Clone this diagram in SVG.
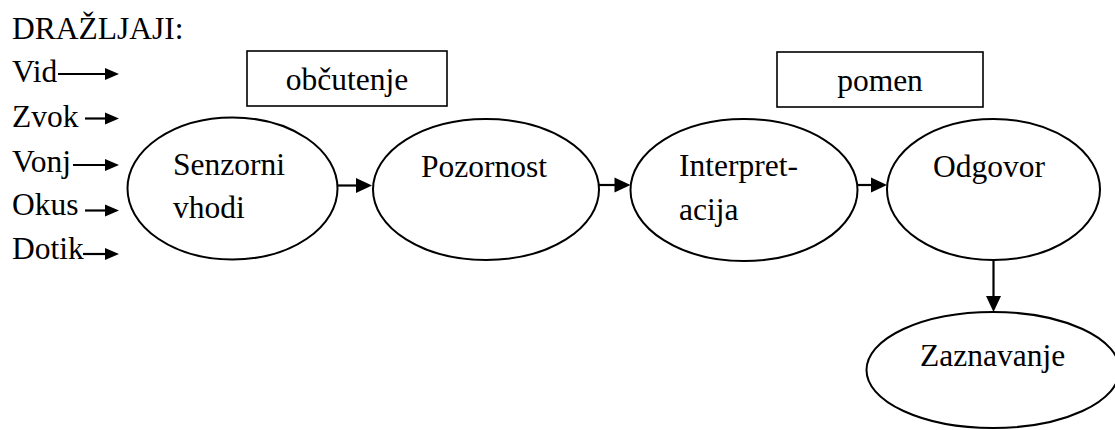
<svg xmlns="http://www.w3.org/2000/svg" width="1115" height="430" viewBox="0 0 1115 430" font-family="Liberation Serif, Tinos, Times New Roman, serif">
  <style>
    text { font-family: 'Liberation Serif', Tinos, 'Times New Roman', serif; font-size: 31.5px; fill: #000; }
    .shape { fill: #fff; stroke: #000; stroke-width: 2; }
    .box { fill: #fff; stroke: #000; stroke-width: 1.6; }
    .conn { stroke: #000; stroke-width: 2.2; fill: none; }
    .head { fill: #000; stroke: none; }
  </style>
  <defs>
    <!-- arrowheads with the tip at the origin, pointing right -->
    <path id="headSmall" class="head" d="M0,0 L-14,-6 L-14,6 Z"/>
    <path id="headBig" class="head" d="M0,0 L-16,-7.5 L-16,7.5 Z"/>
  </defs>

  <!-- stimuli list -->
  <g id="stimuli">
    <text x="12" y="39">DRAŽLJAJI:</text>
    <text x="12" y="82">Vid</text>
    <text x="12" y="127">Zvok</text>
    <text x="12" y="172">Vonj</text>
    <text x="12" y="215">Okus</text>
    <text x="12" y="259">Dotik</text>
  </g>

  <!-- label boxes -->
  <g id="obcutenje">
    <rect class="box" x="247" y="51" width="200" height="55"/>
    <text x="347" y="90" text-anchor="middle">občutenje</text>
  </g>
  <g id="pomen">
    <rect class="box" x="777" y="52" width="206" height="55"/>
    <text x="880" y="91" text-anchor="middle">pomen</text>
  </g>

  <!-- process stages -->
  <g id="senzorni-vhodi">
    <ellipse class="shape" cx="232.5" cy="188.5" rx="105" ry="71"/>
    <text x="173" y="175">Senzorni</text>
    <text x="173" y="218">vhodi</text>
  </g>
  <g id="pozornost">
    <ellipse class="shape" cx="486" cy="189.5" rx="113" ry="70.5"/>
    <text x="421" y="177">Pozornost</text>
  </g>
  <g id="interpretacija">
    <ellipse class="shape" cx="744" cy="190" rx="113.5" ry="71"/>
    <text x="679" y="176">Interpret-</text>
    <text x="679" y="220">acija</text>
  </g>
  <g id="odgovor">
    <ellipse class="shape" cx="993.5" cy="189.5" rx="106.5" ry="70.5"/>
    <text x="933" y="177">Odgovor</text>
  </g>
  <g id="zaznavanje">
    <ellipse class="shape" cx="993" cy="370" rx="126.5" ry="58"/>
    <text x="920" y="366">Zaznavanje</text>
  </g>

  <!-- connectors -->
  <g id="connectors">
    <line class="conn" x1="58" y1="74" x2="106" y2="74"/>
    <use href="#headSmall" x="119" y="74"/>
    <line class="conn" x1="85" y1="118.5" x2="106" y2="118.5"/>
    <use href="#headSmall" x="119" y="118.5"/>
    <line class="conn" x1="73" y1="165" x2="106" y2="165"/>
    <use href="#headSmall" x="119" y="165"/>
    <line class="conn" x1="85" y1="210.5" x2="106" y2="210.5"/>
    <use href="#headSmall" x="119" y="210.5"/>
    <line class="conn" x1="83" y1="254" x2="106" y2="254"/>
    <use href="#headSmall" x="119" y="254"/>

    <line class="conn" x1="337.5" y1="185.5" x2="357" y2="185.5"/>
    <use href="#headBig" x="372" y="185.5"/>
    <line class="conn" x1="599" y1="185" x2="615.5" y2="185"/>
    <use href="#headBig" x="630.5" y="185"/>
    <line class="conn" x1="857.5" y1="185" x2="872" y2="185"/>
    <use href="#headBig" x="887" y="185"/>
    <line class="conn" x1="993.5" y1="260" x2="993.5" y2="297"/>
    <use href="#headBig" transform="translate(993.5,312) rotate(90)"/>
  </g>
</svg>
